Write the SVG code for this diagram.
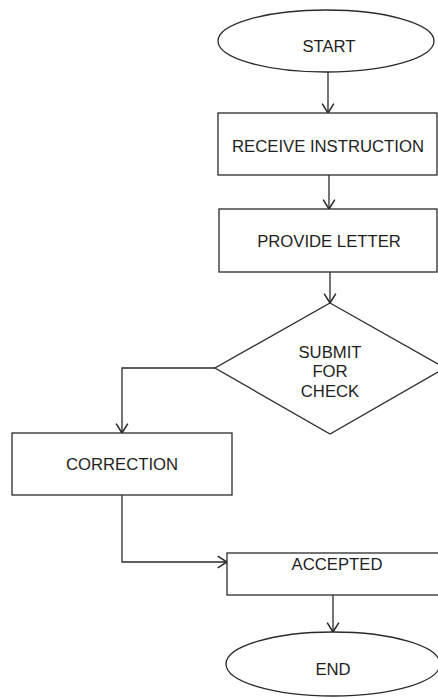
<svg xmlns="http://www.w3.org/2000/svg" width="438" height="698" viewBox="0 0 438 698">
<style>
.s{fill:#fff;stroke:#2a2a2a;stroke-width:1.3}
.t{font-family:"Liberation Sans",Arial,sans-serif;font-size:16.7px;fill:#1e1e1e;text-anchor:middle}
.c{fill:none;stroke:#2a2a2a;stroke-width:1.3}
</style>
<defs>
<marker id="a" markerUnits="userSpaceOnUse" markerWidth="14" markerHeight="14" refX="10" refY="6" orient="auto" viewBox="0 0 12 12">
<path d="M2,1 L10,6 L2,11" fill="none" stroke="#2a2a2a" stroke-width="1.3"/>
</marker>
</defs>
<rect width="438" height="698" fill="#fff"/>
<g id="connectors">
<path class="c" d="M328,72 V113" marker-end="url(#a)"/>
<path class="c" d="M329,175 V209" marker-end="url(#a)"/>
<path class="c" d="M330,272 V303" marker-end="url(#a)"/>
<path class="c" d="M215,368 H122 V433" marker-end="url(#a)"/>
<path class="c" d="M122,495 V562 H227" marker-end="url(#a)"/>
<path class="c" d="M333,595 V632" marker-end="url(#a)"/>
</g>
<g id="start">
<ellipse class="s" cx="326" cy="41" rx="108" ry="31"/>
<text class="t" x="329" y="52">START</text>
</g>
<g id="receive">
<rect class="s" x="218" y="113" width="219" height="62"/>
<text class="t" x="328" y="152">RECEIVE INSTRUCTION</text>
</g>
<g id="provide">
<rect class="s" x="219" y="209" width="218" height="63"/>
<text class="t" x="329" y="247">PROVIDE LETTER</text>
</g>
<g id="submit">
<polygon class="s" points="330,303 445,368 330,434 215,368"/>
<text class="t" x="330" y="358">SUBMIT</text>
<text class="t" x="330" y="377">FOR</text>
<text class="t" x="330" y="397">CHECK</text>
</g>
<g id="correction">
<rect class="s" x="12" y="433" width="220" height="62"/>
<text class="t" x="122" y="470">CORRECTION</text>
</g>
<g id="accepted">
<rect class="s" x="227" y="553" width="212" height="42"/>
<text class="t" x="337" y="570">ACCEPTED</text>
</g>
<g id="end">
<ellipse class="s" cx="333" cy="664" rx="107" ry="32"/>
<text class="t" x="333" y="675">END</text>
</g>
</svg>
